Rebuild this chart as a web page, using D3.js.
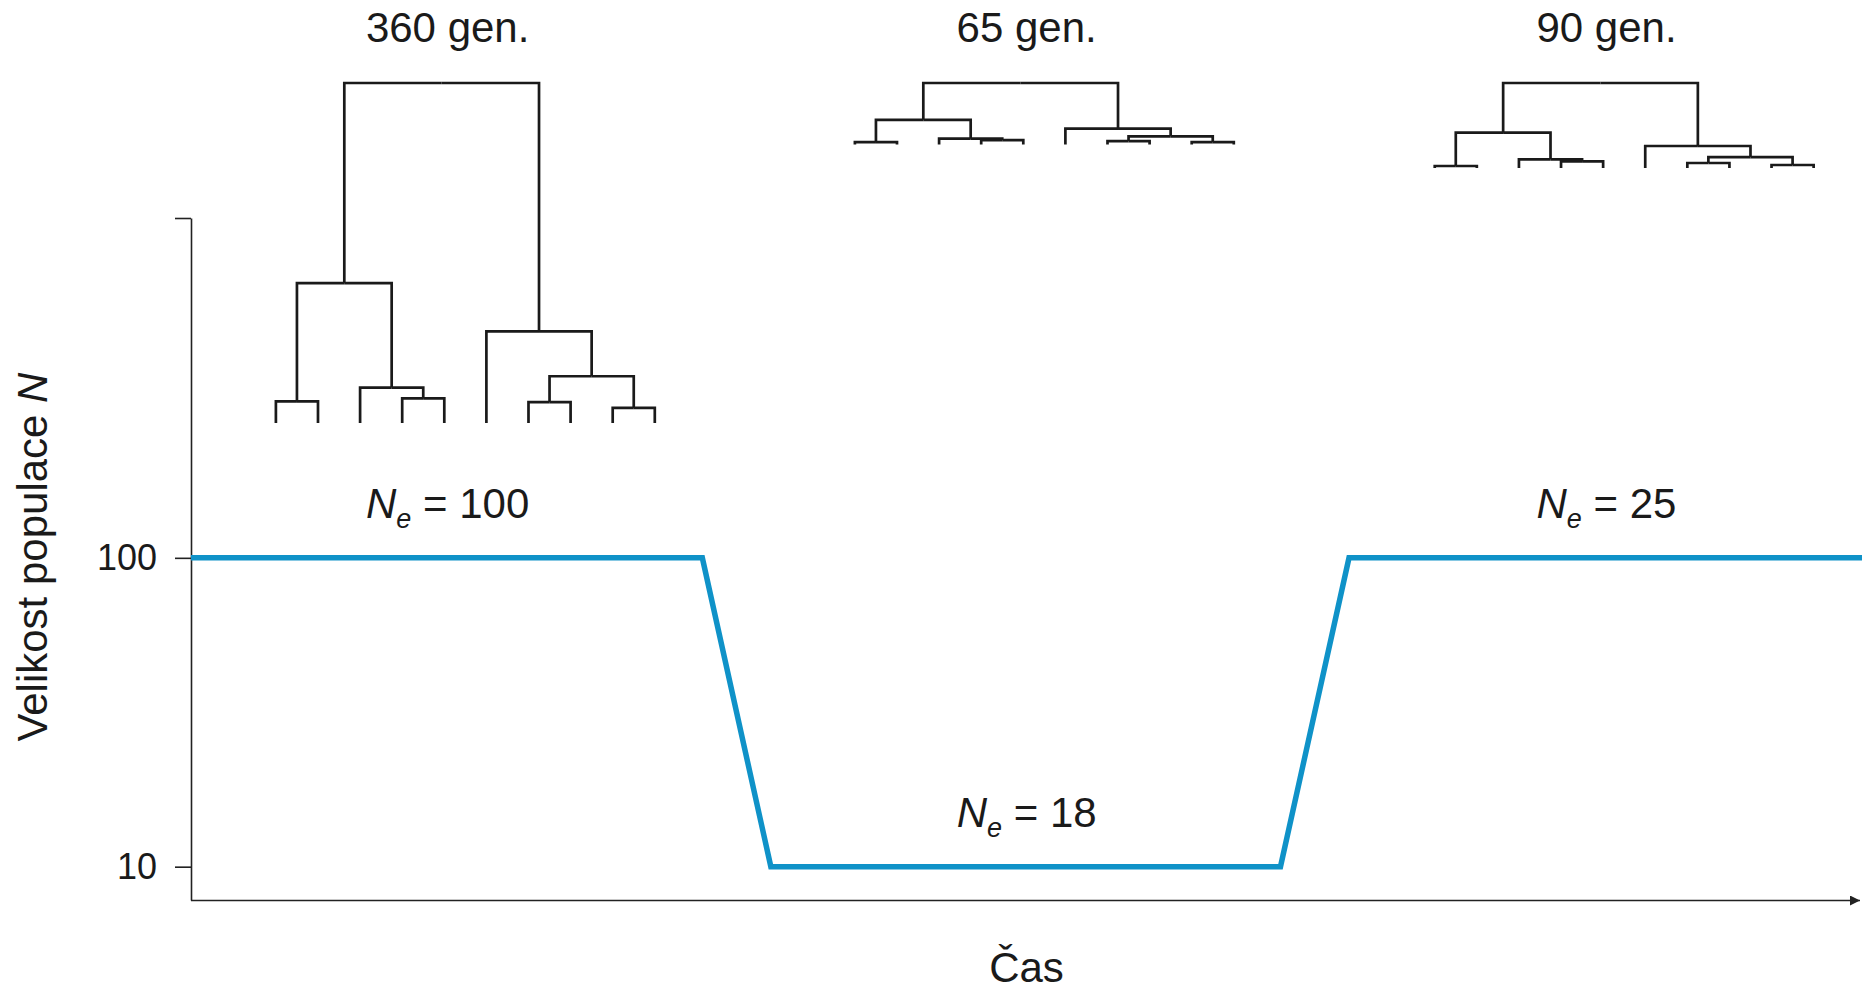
<!DOCTYPE html>
<html>
<head>
<meta charset="utf-8">
<script src="https://cdn.jsdelivr.net/npm/d3@7"></script>
<style>
  body { margin: 0; background: #fff; }
  text { font-family: "Liberation Sans", Arial, sans-serif; fill: #1a1a1a; }
</style>
</head>
<body>
<div id="chart"></div>
<script>
// population size through time (schematic, time in % of the axis)
var timePoints = [0, 30.6, 34.7, 65.2, 69.3, 100];
var popSizes = [100, 100, 10, 10, 100, 100];
var yTicks = [10, 100];
var yMin = 7.8;
var yMax = 1260;

// one tree per phase: label, Ne and node heights (generations)
// node order: A, B, C, D, E, F, G, H, root  (same topology for all three)
var genLabels = ["360 gen.", "65 gen.", "90 gen."];
var neValues = ["100", "18", "25"];
var tree360 = [23, 26, 37.5, 148, 22, 16, 49.5, 97, 360];
var tree65 = [2.4, 4.6, 6, 26, 3.5, 2.4, 8.5, 16.6, 65];
var tree90 = [2.1, 7.1, 9.2, 37.4, 5.3, 3.2, 11.6, 23.3, 90];
var trees = [tree360, tree65, tree90];

var svgWidth = 1862;
var svgHeight = 990;

var margin = {
    top: 218,
    right: 0,
    bottom: 90,
    left: 191
};
var plotBottom = svgHeight - margin.bottom;

var svg = d3.select("#chart")
    .append("svg")
    .attr("width", svgWidth)
    .attr("height", svgHeight);

var xScale = d3.scaleLinear()
    .domain([0, 100])
    .range([margin.left, svgWidth - margin.right]);

var yScale = d3.scaleLog()
    .domain([yMin, yMax])
    .range([plotBottom, margin.top]);

// y axis (top end gets an unlabeled tick)
var leftAxis = d3.axisLeft(yScale)
    .tickValues(yTicks.concat([yMax]))
    .tickFormat(d => d === yMax ? "" : d)
    .tickSize(16)
    .tickSizeOuter(0)
    .tickPadding(18);

var yAxis = svg.append("g")
    .attr("transform", `translate(${margin.left}, 0)`)
    .call(leftAxis);
yAxis.selectAll("path, line").attr("stroke", "#222").attr("stroke-width", 1.6);
yAxis.selectAll("text")
    .style("font-size", "36px")
    .style("font-family", "'Liberation Sans', Arial, sans-serif")
    .attr("fill", "#1a1a1a");

// x axis with arrow
svg.append("defs").append("marker")
    .attr("id", "arrow")
    .attr("viewBox", "0 0 10 10")
    .attr("refX", 10)
    .attr("refY", 5)
    .attr("markerUnits", "userSpaceOnUse")
    .attr("markerWidth", 12)
    .attr("markerHeight", 10)
    .attr("orient", "auto")
    .append("path")
    .attr("d", "M0,0L10,5L0,10Z")
    .attr("fill", "#222");

svg.append("line")
    .attr("x1", xScale.range()[0])
    .attr("x2", xScale.range()[1] - 2)
    .attr("y1", plotBottom + 0.5)
    .attr("y2", plotBottom + 0.5)
    .attr("stroke", "#222")
    .attr("stroke-width", 1.6)
    .attr("marker-end", "url(#arrow)");

// axis titles
svg.append("text")
    .attr("x", (xScale.range()[0] + xScale.range()[1]) / 2)
    .attr("y", svgHeight - 8)
    .attr("text-anchor", "middle")
    .style("font-size", "42px")
    .text("Čas");

var yTitle = svg.append("text")
    .attr("transform", `translate(47, ${(plotBottom + margin.top) / 2 - 2}) rotate(-90)`)
    .attr("text-anchor", "middle")
    .style("font-size", "42px");
yTitle.append("tspan").text("Velikost populace ");
yTitle.append("tspan").style("font-style", "italic").text("N");

// population size line
var popData = timePoints.map((t, i) => ({t: t, n: popSizes[i]}));
var line = d3.line()
    .x(d => xScale(d.t))
    .y(d => yScale(d.n));

svg.append("path")
    .datum(popData)
    .attr("d", line)
    .attr("fill", "none")
    .attr("stroke", "#0f92c8")
    .attr("stroke-width", 5.5)
    .attr("stroke-linejoin", "miter");

// genealogies
var rootY = 83;
var genScale = d3.scaleLinear().domain([0, 360]).range([0, 340]);
var leafStep = 42.1;

function buildTree(h) {
    var leaf = i => ({name: "l" + i, gen: 0});
    var A = {gen: h[0], children: [leaf(0), leaf(1)]};
    var B = {gen: h[1], children: [leaf(3), leaf(4)]};
    var C = {gen: h[2], children: [leaf(2), B]};
    var D = {gen: h[3], children: [A, C]};
    var E = {gen: h[4], children: [leaf(6), leaf(7)]};
    var F = {gen: h[5], children: [leaf(8), leaf(9)]};
    var G = {gen: h[6], children: [E, F]};
    var H = {gen: h[7], children: [leaf(5), G]};
    return {gen: h[8], children: [D, H]};
}

trees.forEach(function(h, k) {
    var phaseMid = xScale((timePoints[2 * k] + timePoints[2 * k + 1]) / 2);
    var root = d3.hierarchy(buildTree(h));
    // 10 leaves -> cluster leaves half a step in from each side
    d3.cluster().separation(() => 1).size([leafStep * 10, 1])(root);

    var offset = phaseMid - 5 - root.x;
    var rootGen = root.data.gen;
    root.each(function(d) {
        d.px = d.x + offset;
        d.py = rootY + genScale(rootGen - d.data.gen);
    });

    var g = svg.append("g").attr("class", "tree");
    g.selectAll("path")
        .data(root.links())
        .enter()
        .append("path")
        .attr("d", d => `M${d.target.px},${d.target.py}V${d.source.py}H${d.source.px}`)
        .attr("fill", "none")
        .attr("stroke", "#1a1a1a")
        .attr("stroke-width", 2.7)
        .attr("stroke-linejoin", "miter");

    svg.append("text")
        .attr("x", phaseMid + 1)
        .attr("y", 42)
        .attr("text-anchor", "middle")
        .style("font-size", "42px")
        .text(genLabels[k]);

    // Ne label above the line
    var ne = svg.append("text")
        .attr("x", phaseMid + 1)
        .attr("y", yScale(popSizes[2 * k]) - 40)
        .attr("text-anchor", "middle")
        .style("font-size", "42px");
    ne.append("tspan").style("font-style", "italic").text("N");
    ne.append("tspan").style("font-style", "italic").style("font-size", "27px").attr("dy", 10).text("e");
    ne.append("tspan").attr("dy", -10).text(" = " + neValues[k]);
});
</script>
</body>
</html>
